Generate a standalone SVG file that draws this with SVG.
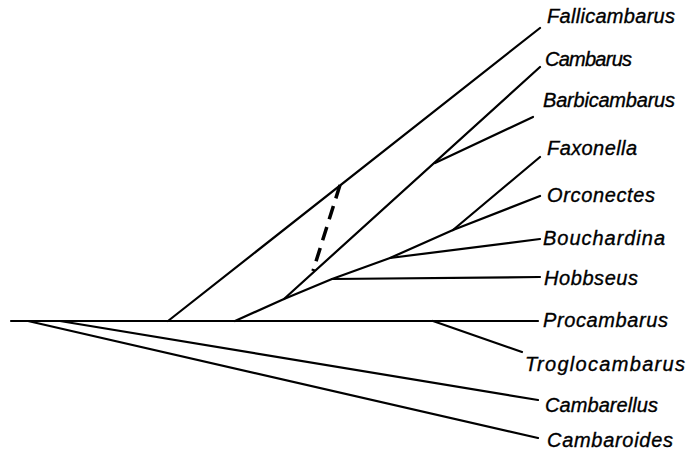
<svg xmlns="http://www.w3.org/2000/svg" width="693" height="454" viewBox="0 0 693 454">
<style>
.br{fill:none;stroke:#000;stroke-width:2.2;stroke-linecap:round;stroke-linejoin:round}
.dash{fill:none;stroke:#000;stroke-width:3.5;stroke-dasharray:14 8}
.lb{font-family:"Liberation Sans",Arial,sans-serif;font-style:italic;font-size:20px;fill:#000;stroke:#000;stroke-width:0.35}
</style>
<rect width="693" height="454" fill="#fff"/>
<g id="connectors">
<path class="br" d="M11 321H538"/>
<path class="br" d="M168 321L540 28"/>
<path class="br" d="M284 299L540 67"/>
<path class="br" d="M435 163L533 117"/>
<path class="br" d="M235 321L284 299L332 279L390 258L453 230"/>
<path class="br" d="M453 230L540 157"/>
<path class="br" d="M453 230L540 196"/>
<path class="br" d="M390 258L540 239"/>
<path class="br" d="M332 279L540 277"/>
<path class="br" d="M433 321L522 352"/>
<path class="br" d="M60 321L538 400"/>
<path class="br" d="M28 321L538 438"/>
<path class="dash" d="M340 185L313 271"/>
</g>
<g id="n-fallicambarus"><text class="lb" x="547" y="23" textLength="128" lengthAdjust="spacing">Fallicambarus</text></g>
<g id="n-cambarus"><text class="lb" x="545" y="66" textLength="87" lengthAdjust="spacing">Cambarus</text></g>
<g id="n-barbicambarus"><text class="lb" x="543" y="107" textLength="132" lengthAdjust="spacing">Barbicambarus</text></g>
<g id="n-faxonella"><text class="lb" x="547" y="155" textLength="90" lengthAdjust="spacing">Faxonella</text></g>
<g id="n-orconectes"><text class="lb" x="547" y="202" textLength="108" lengthAdjust="spacing">Orconectes</text></g>
<g id="n-bouchardina"><text class="lb" x="543" y="245" textLength="122" lengthAdjust="spacing">Bouchardina</text></g>
<g id="n-hobbseus"><text class="lb" x="544" y="285" textLength="94" lengthAdjust="spacing">Hobbseus</text></g>
<g id="n-procambarus"><text class="lb" x="543" y="327" textLength="125" lengthAdjust="spacing">Procambarus</text></g>
<g id="n-troglocambarus"><text class="lb" x="525" y="371" textLength="160" lengthAdjust="spacing">Troglocambarus</text></g>
<g id="n-cambarellus"><text class="lb" x="545" y="412" textLength="113" lengthAdjust="spacing">Cambarellus</text></g>
<g id="n-cambaroides"><text class="lb" x="547" y="447" textLength="126" lengthAdjust="spacing">Cambaroides</text></g>
</svg>
